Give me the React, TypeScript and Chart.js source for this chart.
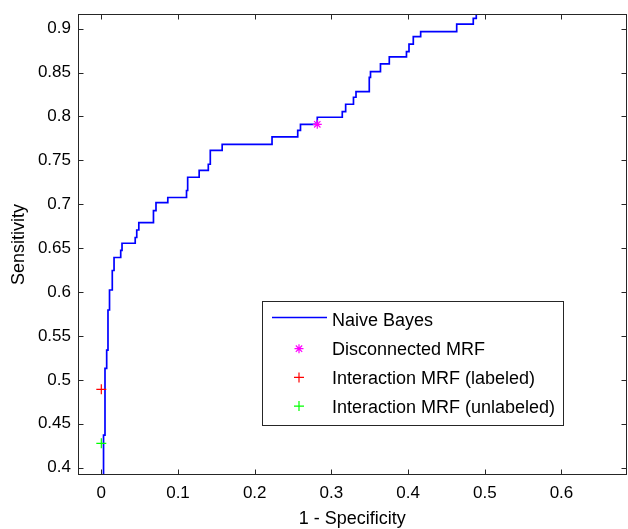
import React, { useEffect, useRef } from "react";
import { Chart, registerables } from "chart.js";

Chart.register(...registerables);

// ---- axis setup ----
const X_RANGE = [-0.0304, 0.6848];
const Y_RANGE = [0.3917, 0.9167];
const X_TICKS = [0, 0.1, 0.2, 0.3, 0.4, 0.5, 0.6];
const X_TICK_LABELS = ["0", "0.1", "0.2", "0.3", "0.4", "0.5", "0.6"];
const Y_TICKS = [0.4, 0.45, 0.5, 0.55, 0.6, 0.65, 0.7, 0.75, 0.8, 0.85, 0.9];
const Y_TICK_LABELS = ["0.4", "0.45", "0.5", "0.55", "0.6", "0.65", "0.7", "0.75", "0.8", "0.85", "0.9"];
const X_TITLE = "1 - Specificity";
const Y_TITLE = "Sensitivity";

// ---- series ----
const SERIES_NAMES = [
  "Naive Bayes",
  "Disconnected MRF",
  "Interaction MRF (labeled)",
  "Interaction MRF (unlabeled)",
];
const SERIES_COLORS = ["#0000ff", "#ff00ff", "#ff0000", "#00ff00"];

// Naive Bayes ROC curve corner points (1 - specificity, sensitivity)
const NB_FPR = [
  0.0029, 0.0029, 0.0048, 0.0048, 0.007, 0.007, 0.0087, 0.0087, 0.0107, 0.0107,
  0.0143, 0.0143, 0.0166, 0.0166, 0.0253, 0.0253, 0.027, 0.027, 0.0442, 0.0442,
  0.0462, 0.0462, 0.0489, 0.0489, 0.068, 0.068, 0.0713, 0.0713, 0.0867, 0.0867,
  0.1111, 0.1111, 0.1126, 0.1126, 0.1276, 0.1276, 0.1395, 0.1395, 0.1421, 0.1421,
  0.1576, 0.1576, 0.2226, 0.2226, 0.2561, 0.2561, 0.2597, 0.2597, 0.2816, 0.2816,
  0.3142, 0.3142, 0.3186, 0.3186, 0.3288, 0.3288, 0.3321, 0.3321, 0.3494, 0.3494,
  0.351, 0.351, 0.364, 0.364, 0.3755, 0.3755, 0.3979, 0.3979, 0.4012, 0.4012,
  0.4068, 0.4068, 0.4164, 0.4164, 0.4634, 0.4634, 0.485, 0.485, 0.4889, 0.4889,
];
const NB_TPR = [
  0.3, 0.4372, 0.4372, 0.5132, 0.5132, 0.534, 0.534, 0.5796, 0.5796, 0.6024,
  0.6024, 0.6246, 0.6246, 0.6394, 0.6394, 0.6474, 0.6474, 0.6556, 0.6556, 0.6622,
  0.6622, 0.6707, 0.6707, 0.679, 0.679, 0.6927, 0.6927, 0.7018, 0.7018, 0.7077,
  0.7077, 0.7157, 0.7157, 0.7308, 0.7308, 0.7387, 0.7387, 0.7456, 0.7456, 0.7615,
  0.7615, 0.7683, 0.7683, 0.7767, 0.7767, 0.7841, 0.7841, 0.7911, 0.7911, 0.7991,
  0.7991, 0.8055, 0.8055, 0.8139, 0.8139, 0.8219, 0.8219, 0.8282, 0.8282, 0.8446,
  0.8446, 0.851, 0.851, 0.8598, 0.8598, 0.8678, 0.8678, 0.8738, 0.8738, 0.8823,
  0.8823, 0.8909, 0.8909, 0.8966, 0.8966, 0.9051, 0.9051, 0.9118, 0.9118, 0.95,
];

const DISCONNECTED_FPR = [0.2816];
const DISCONNECTED_TPR = [0.7911];
const LABELED_FPR = [0.0];
const LABELED_TPR = [0.4893];
const UNLABELED_FPR = [0.0];
const UNLABELED_TPR = [0.4278];

const FONT_FAMILY = "'Liberation Sans', Arial, Helvetica, sans-serif";
const TICK_FONT_SIZE = 17;
const TEXT_FONT_SIZE = 18;
const AXIS_COLOR = "#262626";

function toPoints(xs: number[], ys: number[]) {
  return xs.map((x, i) => ({ x, y: ys[i] }));
}

function drawMarker(ctx: CanvasRenderingContext2D, kind: string, x: number, y: number, r: number, color: string) {
  ctx.save();
  ctx.strokeStyle = color;
  ctx.lineWidth = 1.2;
  ctx.beginPath();
  ctx.moveTo(x - r, y);
  ctx.lineTo(x + r, y);
  ctx.moveTo(x, y - r);
  ctx.lineTo(x, y + r);
  if (kind === "star") {
    const d = r * Math.SQRT1_2;
    ctx.moveTo(x - d, y - d);
    ctx.lineTo(x + d, y + d);
    ctx.moveTo(x - d, y + d);
    ctx.lineTo(x + d, y - d);
  }
  ctx.stroke();
  ctx.restore();
}

const framePlugin = {
  id: "matlabFrame",
  afterDatasetsDraw(chart: any) {
    const { ctx, chartArea: a, scales } = chart;
    ctx.save();
    ctx.strokeStyle = AXIS_COLOR;
    ctx.lineWidth = 1;
    const L = Math.round(a.left) + 0.5;
    const R = Math.round(a.right) - 0.5;
    const T = Math.round(a.top) + 0.5;
    const B = Math.round(a.bottom) - 0.5;
    ctx.strokeRect(L, T, R - L, B - T);
    const tl = 5;
    ctx.beginPath();
    X_TICKS.forEach((v) => {
      const px = Math.round(scales.x.getPixelForValue(v)) + 0.5;
      ctx.moveTo(px, B);
      ctx.lineTo(px, B - tl);
      ctx.moveTo(px, T);
      ctx.lineTo(px, T + tl);
    });
    Y_TICKS.forEach((v) => {
      const py = Math.round(scales.y.getPixelForValue(v)) + 0.5;
      ctx.moveTo(L, py);
      ctx.lineTo(L + tl, py);
      ctx.moveTo(R, py);
      ctx.lineTo(R - tl, py);
    });
    ctx.stroke();
    ctx.restore();
  },
};

const legendPlugin = {
  id: "matlabLegend",
  afterDraw(chart: any) {
    const { ctx, chartArea: a } = chart;
    const boxW = 301;
    const boxH = 124;
    const boxR = a.right - 64;
    const boxB = a.bottom - 50;
    const boxL = Math.round(boxR - boxW);
    const boxT = Math.round(boxB - boxH);
    ctx.save();
    ctx.fillStyle = "#ffffff";
    ctx.fillRect(boxL, boxT, boxW, boxH);
    ctx.strokeStyle = AXIS_COLOR;
    ctx.lineWidth = 1;
    ctx.strokeRect(boxL + 0.5, boxT + 0.5, boxW, boxH);

    ctx.font = `${TEXT_FONT_SIZE}px ${FONT_FAMILY}`;
    ctx.textBaseline = "middle";
    ctx.textAlign = "left";
    const kinds = ["line", "star", "plus", "plus"];
    SERIES_NAMES.forEach((name, i) => {
      const rowY = boxT + 20.5 + i * 28.7;
      if (kinds[i] === "line") {
        ctx.strokeStyle = SERIES_COLORS[i];
        ctx.lineWidth = 1.5;
        ctx.beginPath();
        ctx.moveTo(boxL + 10, rowY - 4);
        ctx.lineTo(boxL + 65, rowY - 4);
        ctx.stroke();
      } else {
        drawMarker(ctx, kinds[i], boxL + 37, rowY - 1.5, kinds[i] === "star" ? 4.5 : 5, SERIES_COLORS[i]);
      }
      ctx.fillStyle = "#000000";
      ctx.fillText(name, boxL + 70, rowY);
    });
    ctx.restore();
  },
};

export default function App() {
  const canvasRef = useRef<HTMLCanvasElement | null>(null);

  useEffect(() => {
    document.body.style.margin = "0";
    const canvas = canvasRef.current;
    if (!canvas) return;
    const tickFont = { family: FONT_FAMILY, size: TICK_FONT_SIZE, lineHeight: 1 };
    const titleFont = { family: FONT_FAMILY, size: TEXT_FONT_SIZE, lineHeight: 1 };
    const chart = new Chart(canvas, {
      type: "scatter",
      data: {
        datasets: [
          {
            label: SERIES_NAMES[0],
            data: toPoints(NB_FPR, NB_TPR),
            showLine: true,
            borderColor: SERIES_COLORS[0],
            backgroundColor: SERIES_COLORS[0],
            borderWidth: 1.7,
            pointRadius: 0,
            tension: 0,
            order: 10,
          },
          {
            label: SERIES_NAMES[1],
            data: toPoints(DISCONNECTED_FPR, DISCONNECTED_TPR),
            pointStyle: "star",
            pointRadius: 4.5,
            borderColor: SERIES_COLORS[1],
            backgroundColor: SERIES_COLORS[1],
            pointBorderWidth: 1.2,
            order: 1,
          },
          {
            label: SERIES_NAMES[2],
            data: toPoints(LABELED_FPR, LABELED_TPR),
            pointStyle: "cross",
            pointRadius: 5,
            borderColor: SERIES_COLORS[2],
            backgroundColor: SERIES_COLORS[2],
            pointBorderWidth: 1.2,
            order: 1,
          },
          {
            label: SERIES_NAMES[3],
            data: toPoints(UNLABELED_FPR, UNLABELED_TPR),
            pointStyle: "cross",
            pointRadius: 5,
            borderColor: SERIES_COLORS[3],
            backgroundColor: SERIES_COLORS[3],
            pointBorderWidth: 1.2,
            order: 1,
          },
        ],
      },
      options: {
        responsive: false,
        animation: false,
        devicePixelRatio: 1,
        layout: { autoPadding: false, padding: { left: 0, top: 14, right: 1.5, bottom: 0 } },
        plugins: {
          legend: { display: false },
          tooltip: { enabled: false },
        },
        scales: {
          x: {
            type: "linear",
            min: X_RANGE[0],
            max: X_RANGE[1],
            afterBuildTicks: (s: any) => {
              s.ticks = X_TICKS.map((v) => ({ value: v }));
            },
            afterFit: (s: any) => {
              s.height = 54;
              s.paddingLeft = 0;
              s.paddingRight = 0;
            },
            ticks: {
              callback: (_v: any, i: number) => X_TICK_LABELS[i],
              padding: 10,
              autoSkip: false,
              maxRotation: 0,
              color: "#000",
              font: tickFont,
            },
            grid: { display: false, drawTicks: false },
            border: { display: false },
            title: {
              display: true,
              text: X_TITLE,
              color: "#000",
              font: titleFont,
              padding: { top: 0, bottom: 1 },
            },
          },
          y: {
            type: "linear",
            min: Y_RANGE[0],
            max: Y_RANGE[1],
            afterBuildTicks: (s: any) => {
              s.ticks = Y_TICKS.map((v) => ({ value: v }));
            },
            afterFit: (s: any) => {
              s.width = 78;
              s.paddingTop = 0;
              s.paddingBottom = 0;
            },
            ticks: {
              callback: (_v: any, i: number) => Y_TICK_LABELS[i],
              padding: 7,
              autoSkip: false,
              color: "#000",
              font: tickFont,
            },
            grid: { display: false, drawTicks: false },
            border: { display: false },
            title: {
              display: true,
              text: Y_TITLE,
              color: "#000",
              font: titleFont,
              padding: { top: 10, bottom: 0 },
            },
          },
        },
      },
      plugins: [framePlugin, legendPlugin],
    });
    return () => chart.destroy();
  }, []);

  return (
    <div style={{ width: 628, height: 529, background: "#fff" }}>
      <canvas ref={canvasRef} width={628} height={529} />
    </div>
  );
}
